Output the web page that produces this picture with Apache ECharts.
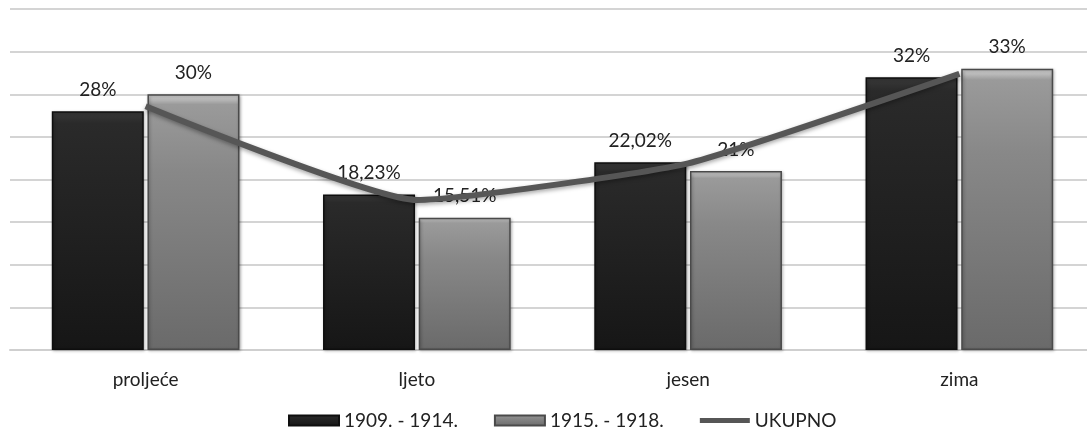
<!DOCTYPE html>
<html>
<head>
<meta charset="utf-8">
<script src="https://cdn.jsdelivr.net/npm/echarts@6/dist/echarts.min.js"></script>
<style>
  html, body { margin: 0; padding: 0; background: #fff; }
  #chart { width: 1087px; height: 438px; }
</style>
</head>
<body>
<div id="chart"></div>
<script>
// data
const seasons = ['proljeće', 'ljeto', 'jesen', 'zima']
const period1 = [28, 18.23, 22.02, 32]
const period2 = [30, 15.51, 21, 33]
const total = [28.6, 17.6, 21.9, 32.4]
const seriesNames = ['1909. - 1914.', '1915. - 1918.', 'UKUPNO']

const font = 'Lato, "Open Sans", sans-serif'

function pct(p) {
  return String(p.value).replace('.', ',') + '%'
}

const chart = echarts.init(document.getElementById('chart'))

const barLabel = {
  show: true,
  position: 'top',
  distance: 12,
  formatter: pct,
  color: '#222',
  fontSize: 19,
  fontFamily: font
}

const option = {
  backgroundColor: '#ffffff',
  animation: false,
  textStyle: { fontFamily: font },
  grid: {
    left: 10,
    width: 1085,
    top: 9,
    bottom: 88,
    outerBoundsMode: 'none'
  },
  legend: {
    bottom: 3,
    left: 283,
    itemWidth: 50,
    itemHeight: 10,
    itemGap: 36,
    textStyle: { fontSize: 19, color: '#222', fontFamily: font },
    data: [
      { name: seriesNames[0], icon: 'rect' },
      { name: seriesNames[1], icon: 'rect' },
      { name: seriesNames[2], icon: 'path://M0,0 L50,0 L50,5 L0,5 Z' }
    ]
  },
  xAxis: {
    type: 'category',
    data: seasons,
    axisLine: { lineStyle: { color: '#cfcfcf', width: 2 } },
    axisTick: { show: false },
    axisLabel: { color: '#222', fontSize: 19, margin: 20, fontFamily: font }
  },
  yAxis: {
    type: 'value',
    min: 0,
    max: 40,
    interval: 5,
    axisLabel: { show: false },
    axisLine: { show: false },
    axisTick: { show: false },
    splitLine: { lineStyle: { color: '#d4d4d4', width: 2 } }
  },
  series: [
    {
      name: seriesNames[0],
      type: 'bar',
      data: period1,
      barWidth: 92,
      barGap: '4%',
      label: barLabel,
      itemStyle: {
        color: {
          type: 'linear', x: 0, y: 0, x2: 0, y2: 1,
          colorStops: [
            { offset: 0, color: '#3a3a3a' },
            { offset: 0.05, color: '#2a2a2a' },
            { offset: 1, color: '#161616' }
          ]
        },
        borderColor: '#0e0e0e',
        borderWidth: 1.5,
        shadowColor: 'rgba(0,0,0,0.3)',
        shadowBlur: 3,
        shadowOffsetX: 1,
        shadowOffsetY: 1
      }
    },
    {
      name: seriesNames[1],
      type: 'bar',
      data: period2,
      barWidth: 92,
      label: barLabel,
      itemStyle: {
        color: {
          type: 'linear', x: 0, y: 0, x2: 0, y2: 1,
          colorStops: [
            { offset: 0, color: '#d8d8d8' },
            { offset: 0.04, color: '#9a9a9a' },
            { offset: 0.3, color: '#888888' },
            { offset: 1, color: '#6a6a6a' }
          ]
        },
        borderColor: '#4a4a4a',
        borderWidth: 1.5,
        shadowColor: 'rgba(0,0,0,0.3)',
        shadowBlur: 3,
        shadowOffsetX: 1,
        shadowOffsetY: 1
      }
    },
    {
      name: seriesNames[2],
      type: 'line',
      data: total,
      smooth: 0.15,
      symbol: 'none',
      z: 5,
      itemStyle: { color: '#565656' },
      lineStyle: {
        color: '#565656',
        width: 6,
        shadowColor: 'rgba(0,0,0,0.35)',
        shadowBlur: 4,
        shadowOffsetY: 2
      }
    }
  ]
}

chart.setOption(option)
</script>
</body>
</html>
